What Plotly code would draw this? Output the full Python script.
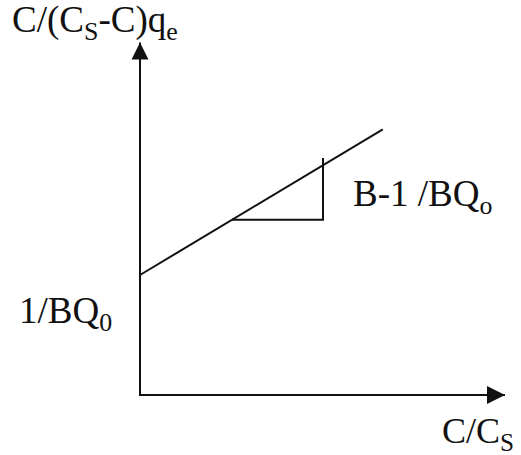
import plotly.graph_objects as go

# Schematic linearised BET isotherm: C/((Cs-C)qe) against C/Cs
intercept = 3.0          # 1/BQ0, where the line meets the vertical axis
slope = 0.6              # (B-1)/BQ0
line_x = [0.0, 6.07]     # extent of the fitted line along C/Cs

# slope marker (right-angle triangle under the line)
tri_x = [2.3, 4.575]
tri_top = 5.925

# axis extents (arrow tips)
x_axis_end = 9.125
y_axis_end = 8.81

ink = "#111111"
serif = "Liberation Serif"

fig = go.Figure()

# axes
fig.add_trace(go.Scatter(x=[0, 0, x_axis_end], y=[y_axis_end, 0, 0], mode="lines",
                         line=dict(color=ink, width=2), hoverinfo="skip"))
fig.add_trace(go.Scatter(x=[0], y=[y_axis_end], mode="markers",
                         marker=dict(symbol="arrow-up", size=17, color=ink), hoverinfo="skip"))
fig.add_trace(go.Scatter(x=[x_axis_end], y=[0], mode="markers",
                         marker=dict(symbol="arrow-right", size=18, color=ink), hoverinfo="skip"))

# fitted straight line
line_y = [intercept + slope * x for x in line_x]
fig.add_trace(go.Scatter(x=line_x, y=line_y, mode="lines",
                         line=dict(color=ink, width=2), hoverinfo="skip"))

# slope triangle
y_start = intercept + slope * tri_x[0]
fig.add_trace(go.Scatter(x=[tri_x[0], tri_x[1], tri_x[1]], y=[y_start, y_start, tri_top],
                         mode="lines", line=dict(color=ink, width=2), hoverinfo="skip"))

labels = [
    ("C/(C<sub>S</sub>-C)q<sub>e</sub>", -3.25, 9.31, 37),
    ("1/BQ<sub>0</sub>", -3.07, 2.05, 37),
    ("B-1 /BQ<sub>o</sub>", 5.28, 4.96, 37),
    ("C/C<sub>S</sub>", 7.5, -0.97, 36),
]
for text, x, y, size in labels:
    fig.add_annotation(x=x, y=y, xref="x", yref="y", text=text, showarrow=False,
                       xanchor="left", yanchor="middle",
                       font=dict(family=serif, size=size, color=ink))

fig.update_layout(
    width=521, height=455,
    margin=dict(l=0, r=0, t=0, b=0),
    paper_bgcolor="white", plot_bgcolor="white",
    showlegend=False,
    xaxis=dict(range=[-3.5, 9.525], visible=False, fixedrange=True),
    yaxis=dict(range=[-1.5, 9.875], visible=False, fixedrange=True),
)

fig.write_html("out.html")
